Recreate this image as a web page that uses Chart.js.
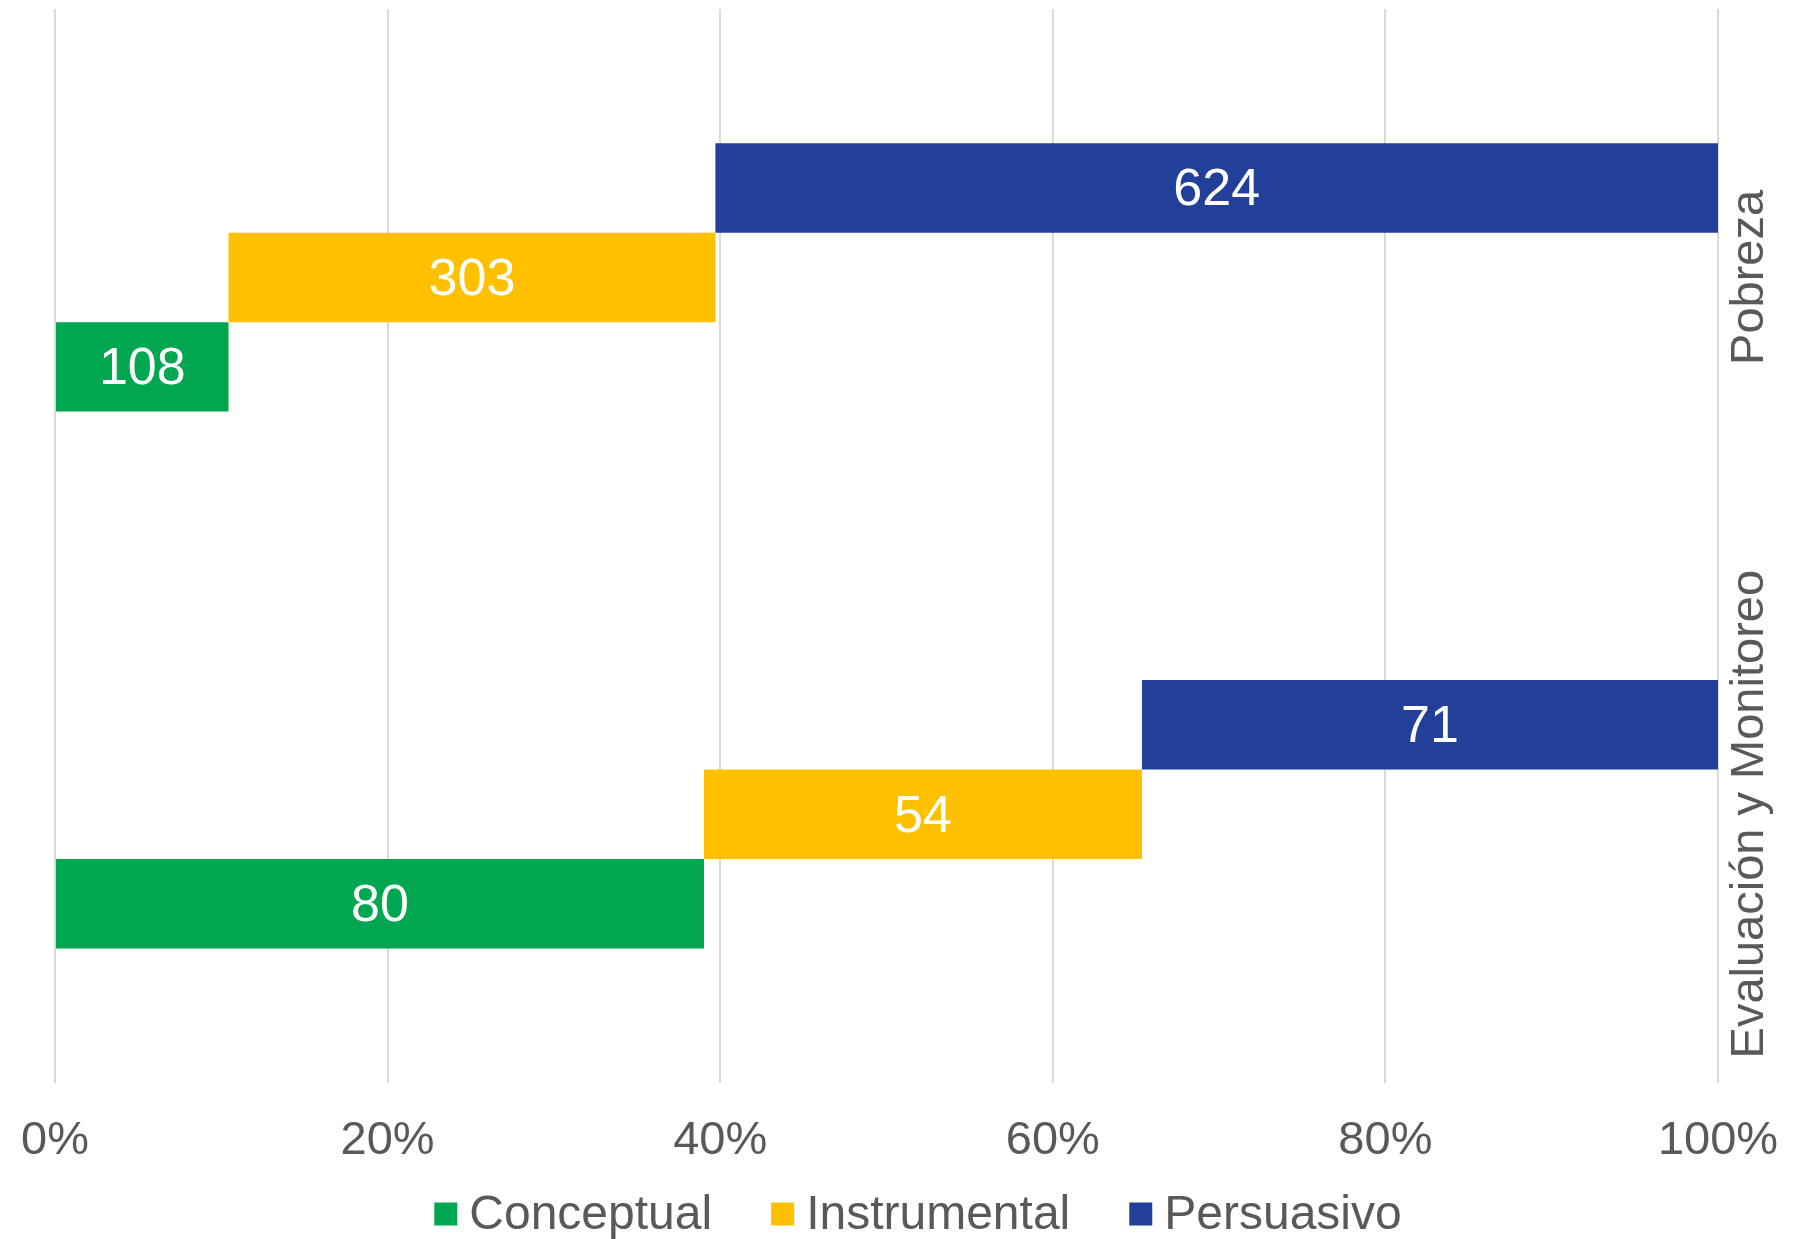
<!DOCTYPE html>
<html>
<head>
<meta charset="utf-8">
<script src="https://cdn.jsdelivr.net/npm/chart.js@4/dist/chart.umd.min.js"></script>
<style>
  html, body { margin: 0; padding: 0; background: #ffffff; }
  #wrap { width: 1804px; height: 1239px; position: relative; }
</style>
</head>
<body>
<div id="wrap"><canvas id="c"></canvas></div>
<script>
const categories = ['Pobreza', 'Evaluación y Monitoreo'];
const seriesNames = ['Conceptual', 'Instrumental', 'Persuasivo'];
const conceptual = [108, 80];
const instrumental = [303, 54];
const persuasivo = [624, 71];
const xTickLabels = ['0%', '20%', '40%', '60%', '80%', '100%'];
const seriesColors = ['#00A650', '#FFC000', '#22409A'];

const rawSeries = [conceptual, instrumental, persuasivo];
const totals = categories.map((_, i) => rawSeries.reduce((s, arr) => s + arr[i], 0));
// cumulative percentage ranges for each series
const ranges = rawSeries.map((arr, si) => categories.map((_, i) => {
  let start = 0;
  for (let k = 0; k < si; k++) start += rawSeries[k][i];
  const end = start + arr[i];
  return [start / totals[i] * 100, end / totals[i] * 100];
}));

// datasets ordered top-to-bottom within each category: Persuasivo, Instrumental, Conceptual
const datasets = [2, 1, 0].map(si => ({
  label: seriesNames[si],
  data: ranges[si],
  rawValues: rawSeries[si],
  backgroundColor: seriesColors[si],
  borderWidth: 0,
  categoryPercentage: 0.5,
  barPercentage: 1.0
}));

const FONT = '"Liberation Sans", Arial, sans-serif';
const GRAY = '#595959';

const valueLabels = {
  id: 'valueLabels',
  afterDatasetsDraw(chart) {
    const ctx = chart.ctx;
    ctx.save();
    ctx.fillStyle = '#ffffff';
    ctx.font = '52px ' + FONT;
    ctx.textAlign = 'center';
    ctx.textBaseline = 'middle';
    chart.data.datasets.forEach((ds, di) => {
      const meta = chart.getDatasetMeta(di);
      meta.data.forEach((el, i) => {
        const cx = (el.x + el.base) / 2;
        ctx.fillText(String(ds.rawValues[i]), cx, el.y + 3);
      });
    });
    ctx.restore();
  }
};

const categoryLabels = {
  id: 'categoryLabels',
  afterDraw(chart) {
    const ctx = chart.ctx;
    const yScale = chart.scales.y;
    const x = chart.chartArea.right + 32;
    ctx.save();
    ctx.fillStyle = GRAY;
    ctx.font = '47px ' + FONT;
    ctx.textAlign = 'center';
    ctx.textBaseline = 'middle';
    categories.forEach((cat, i) => {
      const y = yScale.getPixelForValue(i);
      ctx.save();
      ctx.translate(x, y);
      ctx.rotate(-Math.PI / 2);
      ctx.fillText(cat, 0, 0);
      ctx.restore();
    });
    ctx.restore();
  }
};

const bottomLegend = {
  id: 'bottomLegend',
  afterDraw(chart) {
    const ctx = chart.ctx;
    const box = 23, gapText = 12, gapItem = 59;
    const cy = 1214;
    ctx.save();
    ctx.font = '48px ' + FONT;
    ctx.textBaseline = 'middle';
    ctx.textAlign = 'left';
    const widths = seriesNames.map(n => ctx.measureText(n).width);
    const total = widths.reduce((s, w) => s + box + gapText + w, 0) + gapItem * (seriesNames.length - 1);
    let x = 918 - total / 2;
    seriesNames.forEach((name, i) => {
      ctx.fillStyle = seriesColors[i];
      ctx.fillRect(x, cy - box / 2, box, box);
      ctx.fillStyle = GRAY;
      ctx.fillText(name, x + box + gapText, cy + 2);
      x += box + gapText + widths[i] + gapItem;
    });
    ctx.restore();
  }
};

new Chart(document.getElementById('c'), {
  type: 'bar',
  data: { labels: categories, datasets },
  options: {
    indexAxis: 'y',
    responsive: true,
    maintainAspectRatio: false,
    animation: false,
    layout: { padding: { top: 9, right: 86, left: 55, bottom: 40 } },
    scales: {
      x: {
        min: 0, max: 100,
        afterFit(scale) { scale.paddingLeft = 0; scale.paddingRight = 0; },
        ticks: {
          stepSize: 20,
          color: GRAY,
          font: { family: FONT, size: 47 },
          padding: 30,
          callback: (v) => xTickLabels[Math.round(v / 20)]
        },
        grid: { color: '#D9D9D9', lineWidth: 2, drawTicks: false },
        border: { display: false }
      },
      y: {
        type: 'category',
        position: 'right',
        display: false,
        grid: { display: false }
      }
    },
    plugins: {
      legend: { display: false },
      tooltip: { enabled: false }
    }
  },
  plugins: [valueLabels, categoryLabels, bottomLegend]
});
</script>
</body>
</html>
